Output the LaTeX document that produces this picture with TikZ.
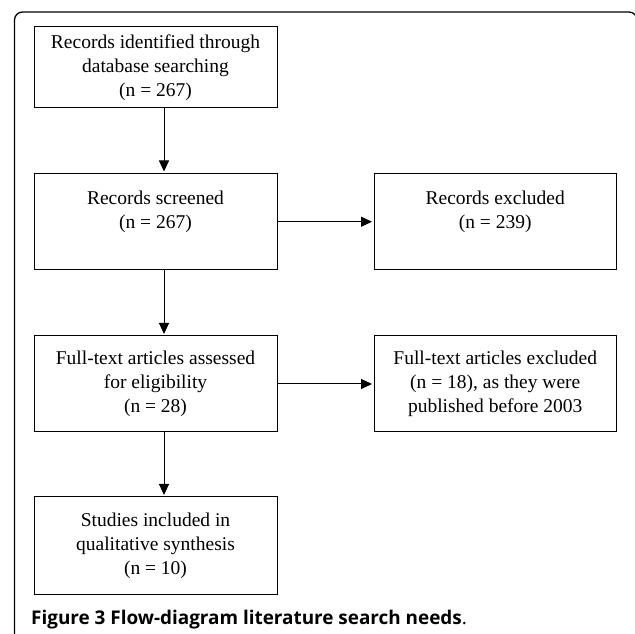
\documentclass[tikz,border=0pt]{standalone}
\usepackage{fontspec}
\setmainfont{Liberation Serif}
\newfontfamily\capfont{Open Sans}
\usetikzlibrary{arrows.meta}

\begin{document}
\begin{tikzpicture}[x=1pt,y=1pt,
    box/.style={draw, line width=1pt, minimum width=243pt, align=center,
        inner sep=0pt, font=\fontsize{19.5}{23.8}\selectfont},
    arr/.style={-{Triangle[length=11pt,width=10pt]}, line width=1pt, shorten >=1.5pt}]
\useasboundingbox (0,0) rectangle (635,634);

% frame
\draw[line width=1.3pt, rounded corners=8pt] (14.5,-10) -- (14.5,622) -- (637,622) -- (637,-10);

% boxes
\node[box, minimum height=81pt] (ident) at (155.5,566.5) {Records identified through\\database searching\\(n = 267)};
\node[box, minimum height=96.5pt] (screen) at (155.5,412.25) {Records screened\\(n = 267)\\~};
\node[box, minimum height=96.5pt, minimum width=242.5pt] (excl) at (495.25,412.25) {Records excluded\\(n = 239)\\~};
\node[box, minimum height=96pt] (full) at (155.5,250) {Full-text articles assessed\\for eligibility\\(n = 28)};
\node[box, minimum height=96pt, minimum width=242.5pt] (fullexcl) at (495.25,250) {Full-text articles excluded\\(n = 18), as they were\\published before 2003};
\node[box, minimum height=97.5pt] (incl) at (155.5,88.25) {Studies included in\\qualitative synthesis\\(n = 10)};

% arrows
\draw[arr] ([xshift=8.5pt]ident.south) -- ([xshift=8.5pt]screen.north);
\draw[arr] ([xshift=8.5pt]screen.south) -- ([xshift=8.5pt]full.north);
\draw[arr] ([xshift=8.5pt]full.south) -- ([xshift=8.5pt]incl.north);
\draw[arr] (screen.east) -- (excl.west);
\draw[arr] (full.east) -- (fullexcl.west);

% caption
\node[anchor=base west, inner sep=0pt, font=\capfont\fontsize{18.9}{22}\selectfont] (cap) at (31,9)
    {\textbf{Figure 3 Flow-diagram literature search needs}.};

\end{tikzpicture}
\end{document}
